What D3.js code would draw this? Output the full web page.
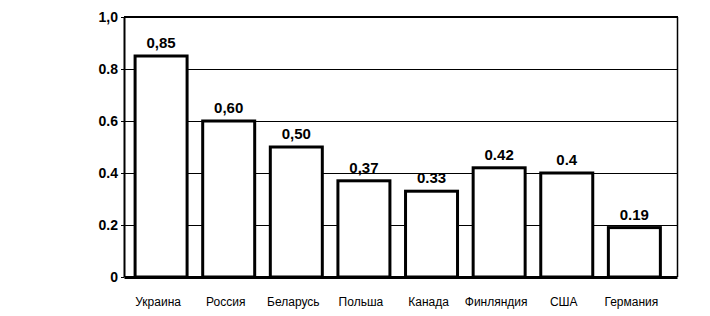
<!DOCTYPE html>
<html><head><meta charset="utf-8">
<script src="https://cdn.jsdelivr.net/npm/d3@7"></script>
<style>body{margin:0;background:#fff}</style>
</head><body>
<svg id="c" width="710" height="316"></svg>
<script>
const categories = ["Украина","Россия","Беларусь","Польша","Канада","Финляндия","США","Германия"];
const values = [0.85,0.60,0.50,0.37,0.33,0.42,0.4,0.19];
const valueLabels = ["0,85","0,60","0,50","0,37","0.33","0.42","0.4","0.19"];
const tickValues = [0,0.2,0.4,0.6,0.8,1.0];
const tickLabels = ["0","0.2","0.4","0.6","0.8","1,0"];

const svg = d3.select("#c");
const m = {l:124, r:677, t:17, b:277};
const x = d3.scaleBand().domain(categories).range([m.l, m.r]).paddingInner(0.231).paddingOuter(0.205).align(0.4);
const y = d3.scaleLinear().domain([0,1]).range([m.b, m.t]);
const font = "Liberation Sans, Arial, sans-serif";

// gridlines
svg.append("g").selectAll("line").data(tickValues.filter(v=>v>0 && v<1)).join("line")
  .attr("x1", m.l).attr("x2", m.r).attr("y1", d=>Math.round(y(d))+0.5).attr("y2", d=>Math.round(y(d))+0.5)
  .attr("stroke","#000").attr("stroke-width",1);
// top frame & right frame
svg.append("line").attr("x1",m.l).attr("x2",m.r+1).attr("y1",y(1)).attr("y2",y(1)).attr("stroke","#000").attr("stroke-width",2);
svg.append("line").attr("x1",m.r+0.5).attr("x2",m.r+0.5).attr("y1",y(1)).attr("y2",m.b).attr("stroke","#000").attr("stroke-width",1.5);

// bars
svg.append("g").selectAll("rect").data(values).join("rect")
  .attr("x",(d,i)=>x(categories[i])).attr("width",x.bandwidth())
  .attr("y",d=>y(d)).attr("height",d=>y(0)-y(d))
  .attr("fill","#fff").attr("stroke","#000").attr("stroke-width",3);

// value labels
svg.append("g").selectAll("text").data(values).join("text")
  .attr("x",(d,i)=>x(categories[i])+x.bandwidth()/2).attr("y",d=>y(d)-8)
  .attr("text-anchor","middle").attr("font-family",font)
  .attr("font-weight","bold").attr("font-size",15).text((d,i)=>valueLabels[i]);

// y axis
const ya = d3.axisLeft(y).tickValues(tickValues).tickFormat((d,i)=>tickLabels[i]).tickSize(3).tickSizeOuter(0).tickPadding(3);
const yg = svg.append("g").attr("transform",`translate(${m.l},0)`).call(ya);
yg.select(".domain").attr("stroke-width",2);
yg.selectAll("text").attr("font-family",font).attr("font-weight","bold").attr("font-size",14).attr("fill","#000");

// x axis
const xa = d3.axisBottom(x).tickSize(0).tickSizeOuter(0).tickPadding(20);
const xg = svg.append("g").attr("transform",`translate(0,${m.b})`).call(xa);
xg.select(".domain").attr("stroke-width",3);
xg.selectAll("text").attr("font-family",font).attr("font-size",12).attr("fill","#000").attr("dx","-3");
</script>
</body></html>
